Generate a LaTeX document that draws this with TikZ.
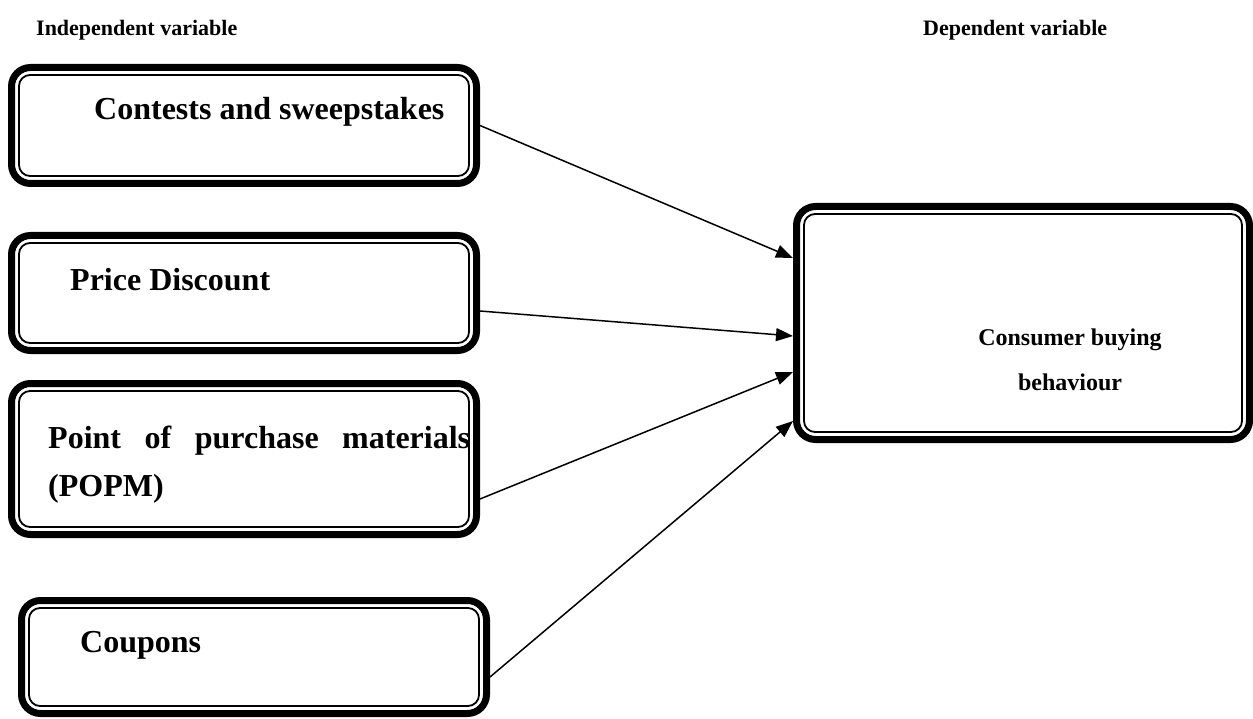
\documentclass[tikz,border=0pt]{standalone}
\usepackage{fontspec}
\setmainfont{Liberation Serif}
\usetikzlibrary{arrows.meta}

\begin{document}
\begin{tikzpicture}[x=1pt,y=-1pt]

    \useasboundingbox (0,0) rectangle (1253,719);

    \begin{scope}[every node/.style={rectangle,draw,line width=7pt,rounded corners=19pt,inner sep=0pt,
            path picture={\draw[line width=1.8pt,rounded corners=11pt]
                ([shift={(7.5pt,-7.5pt)}]path picture bounding box.north west) rectangle
                ([shift={(-7.5pt,7.5pt)}]path picture bounding box.south east);}}]
        \node[minimum width=465pt,minimum height=116pt] (contests) at (244,125.5) {};
        \node[minimum width=465pt,minimum height=115pt] (price) at (244,293) {};
        \node[minimum width=465pt,minimum height=151pt] (popm) at (244,459) {};
        \node[minimum width=465pt,minimum height=113pt] (coupons) at (254,657) {};
        \node[minimum width=453pt,minimum height=233pt] (buying) at (1023,323) {}; % Dependent variable %
    \end{scope}

    \begin{scope}[every node/.style={font=\bfseries\fontsize{32}{48}\selectfont,inner sep=0pt,anchor=west}]
        \node[font=\bfseries\fontsize{22}{30}\selectfont] (indep) at (36,30) {Independent variable};
        \node[font=\bfseries\fontsize{22}{30}\selectfont] (dep) at (923,30) {Dependent variable};
        \node (contestsText) at (94,112) {Contests and sweepstakes};
        \node (priceText) at (70,280) {Price Discount};
        \node[align=left] (popmText) at (48,465) {\makebox[422pt][s]{Point of purchase materials}\\(POPM)};
        \node (couponsText) at (80,645) {Coupons};
        \node[align=center,anchor=center,font=\bfseries\fontsize{24}{45}\selectfont] (buyingText) at (1070,360) {Consumer buying\\behaviour};
    \end{scope}

    \begin{scope}[every edge/.style={draw,line width=1.5pt,-{Triangle[length=17pt,width=13pt]}}]
        % Independent to dependent %
        \path (contests.east) edge ([yshift=65pt]buying.west);
        \path ([yshift=-18pt]price.east) edge ([yshift=-13pt]buying.west);
        \path ([yshift=-40pt]popm.east) edge ([yshift=-49pt]buying.west);
        \path ([yshift=-20pt]coupons.east) edge ([yshift=-98pt]buying.west);
    \end{scope}

\end{tikzpicture}
\end{document}
